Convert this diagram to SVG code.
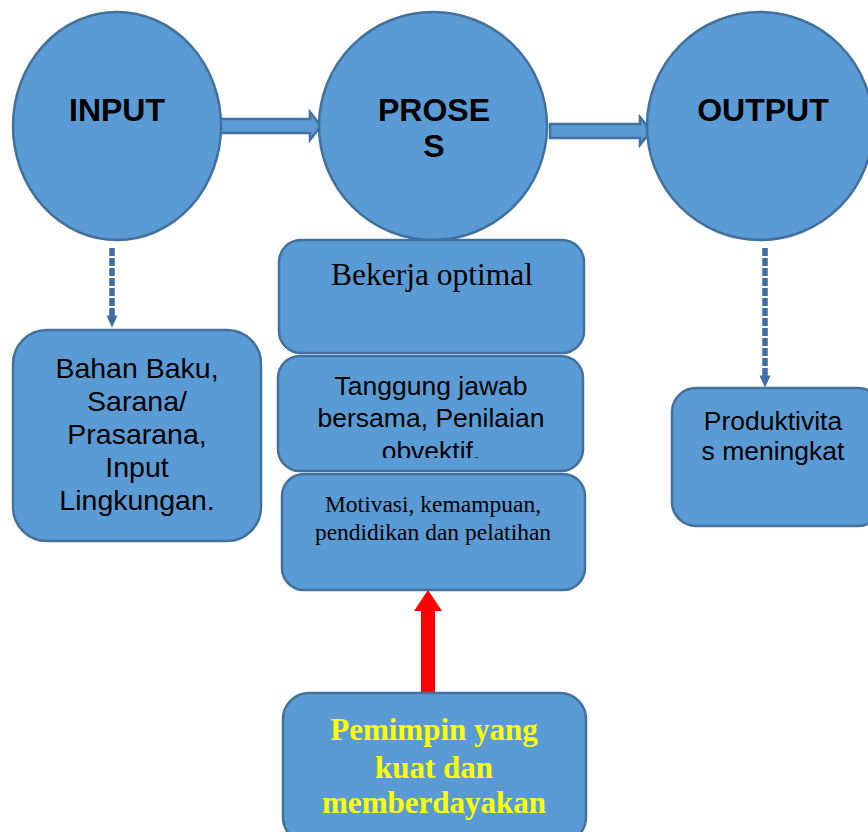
<svg xmlns="http://www.w3.org/2000/svg" width="868" height="832" viewBox="0 0 868 832">
  <style>
    .shape { fill: #5B9BD5; stroke: #41719C; stroke-width: 2.5; }
    .sans { font-family: "Liberation Sans", Arial, sans-serif; fill: #000; text-anchor: middle; }
    .serif { font-family: "Liberation Serif", "Times New Roman", serif; fill: #000; text-anchor: middle; }
    .title { font-size: 32px; font-weight: bold; }
    .dash { fill: none; stroke: #3F6DA5; stroke-width: 5.5; stroke-dasharray: 8 2; }
  </style>
  <defs>
    <marker id="dashHead" markerWidth="3" markerHeight="3" refX="1.2" refY="1.5" orient="auto" markerUnits="strokeWidth">
      <path d="M0,0.5 L2.2,1.5 L0,2.5 Z" fill="#3F6DA5"/>
    </marker>
    <clipPath id="clipTanggung">
      <rect x="279" y="356" width="305" height="102"/>
    </clipPath>
  </defs>
  <rect width="868" height="832" fill="#fff"/>

  <!-- connectors -->
  <g id="connectors">
    <path class="shape" d="M220,119 H310 V112 L321,126 L310,140 V133 H220 Z" stroke-width="2"/>
    <path class="shape" d="M550,124 H640 V117 L651,131 L640,145 V138 H550 Z" stroke-width="2"/>
    <line class="dash" x1="112" y1="248" x2="112" y2="322" marker-end="url(#dashHead)"/>
    <line class="dash" x1="765" y1="248" x2="765" y2="382" marker-end="url(#dashHead)"/>
    <path d="M421,692 V611 H414 L428,590 L442,611 H435 V692 Z" fill="#FF0000"/>
  </g>

  <!-- circles -->
  <g id="input">
    <ellipse class="shape" cx="117" cy="126" rx="104" ry="114"/>
    <text class="sans title" x="117" y="121">INPUT</text>
  </g>
  <g id="proses">
    <ellipse class="shape" cx="433" cy="126" rx="114" ry="114"/>
    <text class="sans title" x="434" y="121">PROSE</text>
    <text class="sans title" x="434" y="157">S</text>
  </g>
  <g id="output">
    <ellipse class="shape" cx="760" cy="126" rx="113" ry="114"/>
    <text class="sans title" x="763" y="121">OUTPUT</text>
  </g>

  <!-- input box -->
  <g id="bahan">
    <rect class="shape" x="13" y="330" width="248" height="211" rx="34"/>
    <g class="sans" font-size="28.5">
      <text x="137" y="378">Bahan Baku,</text>
      <text x="137" y="411">Sarana/</text>
      <text x="137" y="444">Prasarana,</text>
      <text x="137" y="477">Input</text>
      <text x="137" y="510">Lingkungan.</text>
    </g>
  </g>

  <!-- process boxes -->
  <g id="bekerja">
    <rect class="shape" x="279" y="240" width="305" height="113" rx="22"/>
    <text class="serif" x="432" y="285" font-size="31.5">Bekerja optimal</text>
  </g>
  <g id="tanggung">
    <rect class="shape" x="278" y="356" width="305" height="115" rx="22"/>
    <g class="sans" font-size="26.5" clip-path="url(#clipTanggung)">
      <text x="431" y="395">Tanggung jawab</text>
      <text x="431" y="427">bersama, Penilaian</text>
      <text x="431" y="460">obvektif.</text>
    </g>
  </g>
  <g id="motivasi">
    <rect class="shape" x="282" y="474" width="303" height="116" rx="22"/>
    <g class="serif" font-size="23.5">
      <text x="433" y="512">Motivasi, kemampuan,</text>
      <text x="433" y="540">pendidikan dan pelatihan</text>
    </g>
  </g>

  <!-- leader box -->
  <g id="pemimpin">
    <rect class="shape" x="283" y="693" width="303" height="150" rx="26"/>
    <g class="serif" font-size="31" font-weight="bold" style="fill:#FFFF00">
      <text x="434" y="740">Pemimpin yang</text>
      <text x="434" y="778">kuat dan</text>
      <text x="434" y="813">memberdayakan</text>
    </g>
  </g>

  <!-- output box -->
  <g id="produktivitas">
    <rect class="shape" x="672" y="388" width="210" height="138" rx="24"/>
    <g class="sans" font-size="26.5">
      <text x="773" y="430">Produktivita</text>
      <text x="773" y="460">s meningkat</text>
    </g>
  </g>
</svg>
